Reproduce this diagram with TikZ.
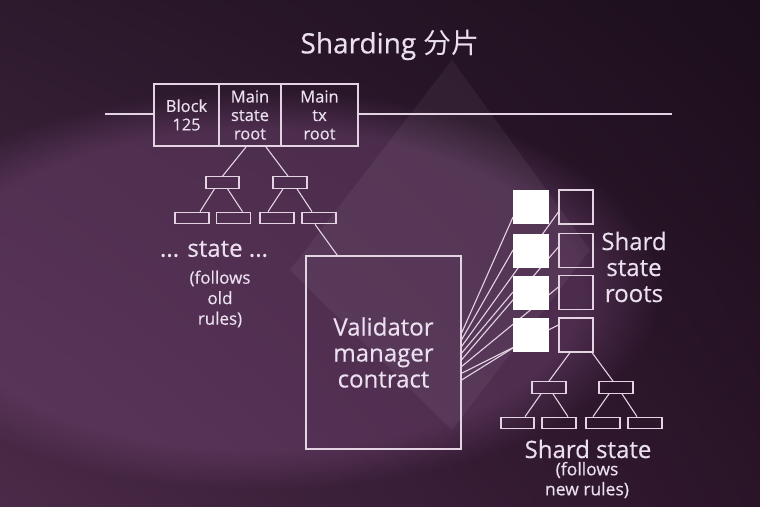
\documentclass[tikz,border=0pt]{standalone}
\usepackage{fontspec}
\setmainfont{Open Sans}[FakeBold=0.4]
\newfontfamily\cjk{Noto Sans CJK SC}
\usetikzlibrary{calc,fadings,shadings}
\definecolor{ink}{HTML}{EBE0EF}
\definecolor{wire}{HTML}{E3D3E3}
\definecolor{bgUL}{HTML}{2D1A2D}
\definecolor{bgUR}{HTML}{1C0E1C}
\definecolor{bgLL}{HTML}{4A2A48}
\definecolor{bgLR}{HTML}{2A1428}
\definecolor{glow}{HTML}{6E4270}
\begin{document}
\begin{tikzpicture}[x=1pt,y=-1pt,
  blk/.style={draw=wire,line width=2pt,text=ink,align=center,minimum height=62pt,inner sep=0pt,font=\fontsize{16.5}{18.5}\selectfont},
  tbox/.style={draw=wire,line width=1.2pt,minimum width=34pt,minimum height=11.5pt,inner sep=0pt},
  wsq/.style={fill=white,draw=none,minimum width=36pt,minimum height=34pt,inner sep=0pt},
  osq/.style={draw=wire,line width=1.2pt,minimum width=34pt,minimum height=34pt,inner sep=0pt},
  wireline/.style={draw=wire,line width=1.1pt},
  lbl/.style={text=ink,align=center,inner sep=0pt}]
\useasboundingbox (0,0) rectangle (760,506);
% background
\shade[upper left=bgUL,upper right=bgUR,lower left=bgLL,lower right=bgLR] (0,0) rectangle (760,506);
\fill[glow,opacity=0.5,path fading=circle with fuzzy edge 20 percent] (260,290) ellipse [x radius=400pt,y radius=200pt];
\fill[white,opacity=0.05] (452,60) -- (290,270) -- (452,430) -- (590,250) -- cycle;

% title
\node[lbl,font=\fontsize{28}{32}\selectfont] (title) at (390,45) {Sharding {\cjk 分片}};

% block header
\node[blk,minimum width=65pt] (b1) at (186.5,115) {Block\\125};
\node[blk,minimum width=62pt] (b2) at (250,115) {Main\\state\\root};
\node[blk,minimum width=77pt] (b3) at (319.5,115) {Main\\tx\\root};
\coordinate (lineL) at (105,114);
\coordinate (lineR) at (672,114);
\draw[wire,line width=2pt] (lineL) -- (lineL -| b1.west);
\draw[wire,line width=2pt] (lineR -| b3.east) -- (lineR);

% main state tree
\node[tbox,minimum width=33pt] (m1) at (222.5,182.5) {};
\node[tbox] (m2) at (290,182.5) {};
\node[tbox] (l1) at (192,218) {};
\node[tbox] (l2) at (233.5,218) {};
\node[tbox] (l3) at (277,218) {};
\node[tbox] (l4) at (319,218) {};
\draw[wireline] ($(b2.south)+(-4,0)$) -- (m1.north);
\draw[wireline] ($(b2.south)+(16,0)$) -- ($(m2.north)+(-2,0)$);
\draw[wireline] ($(m1.south)+(-8,0)$) -- ($(l1.north)+(8,0)$);
\draw[wireline] ($(m1.south)+(5,0)$) -- ($(l2.north)+(9,0)$);
\draw[wireline] ($(m2.south)+(-7,0)$) -- ($(l3.north)+(-9,0)$);
\draw[wireline] ($(m2.south)+(7,0)$) -- ($(l4.north)+(-7,0)$);

\node[lbl,font=\fontsize{24}{28}\selectfont] (stl) at (214,249) {... state ...};
\node[lbl,font=\fontsize{17}{20.5}\selectfont] (old) at (220,299) {(follows\\old\\rules)};

% validator manager contract
\node[draw=wire,line width=1.2pt,minimum width=155pt,minimum height=193pt,inner sep=0pt,text=ink,align=center,font=\fontsize{24}{26}\selectfont] (v) at (383.5,352.5) {Validator\\manager\\contract};
\draw[wireline] ($(l4.south)+(-4,0)$) -- ($(v.north west)+(32,0)$);

% shard state roots
\node[osq] (o1) at (576,207) {};
\node[osq] (o2) at (576,250.5) {};
\node[osq] (o3) at (576,292.5) {};
\node[osq] (o4) at (576,335) {};
\coordinate (w1a) at (513,217);
\coordinate (w2a) at (513,250);
\coordinate (w3a) at (513,292);
\coordinate (w4a) at (513,348);
\draw[wireline] ($(v.east)+(0,-19.5)$) -- (w1a);
\draw[wireline] ($(v.east)+(0,-12.8)$) -- (w2a);
\draw[wireline] ($(v.east)+(0,-6.1)$) -- ($(o1.west)+(0,5)$);
\draw[wireline] ($(v.east)+(0,0.6)$) -- (w3a);
\draw[wireline] ($(v.east)+(0,7.3)$) -- ($(o2.west)+(0,-3.5)$);
\draw[wireline] ($(v.east)+(0,14)$) -- ($(o3.west)+(0,-5.5)$);
\draw[wireline] ($(v.east)+(0,20.7)$) -- ($(o4.west)+(0,-10)$);
\draw[wireline] ($(v.east)+(0,27.5)$) -- (w4a);
\node[wsq] (w1) at (531,207) {};
\node[wsq] (w2) at (531,250.5) {};
\node[wsq] (w3) at (531,292.5) {};
\node[wsq] (w4) at (531,335) {};
\node[lbl,font=\fontsize{24}{26}\selectfont] (ssr) at (634,267) {Shard\\state\\roots};

% shard state tree
\node[tbox] (sm1) at (549,387.5) {};
\node[tbox] (sm2) at (616,387.5) {};
\node[tbox,minimum width=33pt] (sl1) at (517.5,423) {};
\node[tbox] (sl2) at (559,423) {};
\node[tbox] (sl3) at (603,423) {};
\node[tbox] (sl4) at (645,423) {};
\draw[wireline] ($(o4.south)+(-6,0)$) -- (sm1.north);
\draw[wireline] ($(o4.south)+(16,0)$) -- ($(sm2.north)+(-3,0)$);
\draw[wireline] ($(sm1.south)+(-8,0)$) -- ($(sl1.north)+(7.5,0)$);
\draw[wireline] ($(sm1.south)+(4,0)$) -- ($(sl2.north)+(9,0)$);
\draw[wireline] ($(sm2.south)+(-7,0)$) -- ($(sl3.north)+(-10,0)$);
\draw[wireline] ($(sm2.south)+(6,0)$) -- ($(sl4.north)+(-8,0)$);

\node[lbl,font=\fontsize{24}{26}\selectfont] (ss) at (588,449) {Shard state};
\node[lbl,font=\fontsize{17.5}{20}\selectfont] (newr) at (587,480) {(follows\\new rules)};
\end{tikzpicture}
\end{document}
